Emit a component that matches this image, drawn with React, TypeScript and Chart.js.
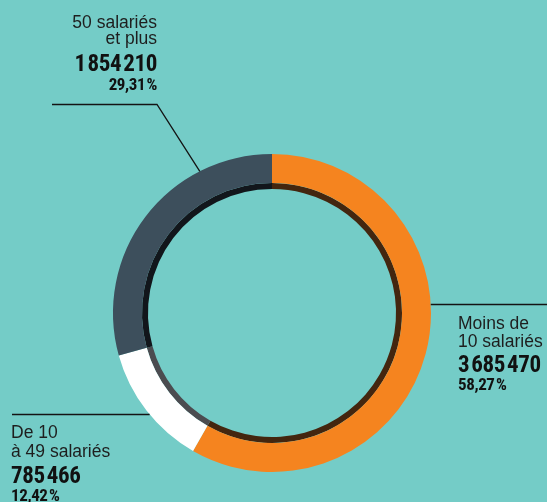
import React, { useEffect, useRef } from "react";
import { Chart, registerables } from "chart.js";

Chart.register(...registerables);

const categories = ["Moins de 10 salariés", "De 10 à 49 salariés", "50 salariés et plus"];
const counts = [3685470, 785466, 1854210];
const shares = [58.27, 12.42, 29.31];
const countLabels = ["3\u200A685\u200A470", "785\u200A466", "1\u200A854\u200A210"];
const shareLabels = ["58,27\u200A%", "12,42\u200A%", "29,31\u200A%"];
const ringColors = ["#F5841F", "#FFFFFF", "#3D4F5C"];
const innerColors = ["#43260F", "#4B4C50", "#12161B"];

const BG = "#74CCC7";
const LIGHT_FONT = "'Liberation Sans', Arial, sans-serif";
const BOLD_FONT = "'Liberation Sans Narrow', 'Roboto Condensed', 'DejaVu Sans Condensed', sans-serif";

const leaderPlugin = {
  id: "leaders",
  afterDraw(chart: any) {
    const arc = chart.getDatasetMeta(0).data[0];
    if (!arc) return;
    const { x: cx, y: cy, outerRadius: r } = arc.getProps(["x", "y", "outerRadius"], true);
    const ctx = chart.ctx;
    ctx.save();
    ctx.strokeStyle = "#141414";
    ctx.lineWidth = 1.3;
    // top-left label
    const a1 = (-27 * Math.PI) / 180;
    ctx.beginPath();
    ctx.moveTo(cx + r * Math.sin(a1), cy - r * Math.cos(a1));
    ctx.lineTo(157, 104.5);
    ctx.lineTo(52, 104.5);
    ctx.stroke();
    // right label
    const y2 = 304.5;
    const x2 = cx + Math.sqrt(r * r - (cy - y2) * (cy - y2));
    ctx.beginPath();
    ctx.moveTo(x2, y2);
    ctx.lineTo(547, y2);
    ctx.stroke();
    // bottom-left label
    const y3 = 414.5;
    const x3 = cx - Math.sqrt(r * r - (y3 - cy) * (y3 - cy));
    ctx.beginPath();
    ctx.moveTo(x3, y3);
    ctx.lineTo(12, y3);
    ctx.stroke();
    ctx.restore();
  },
};

type Line = { text: string; top: number; bold?: boolean; size: number };

const Label = ({ left, right, lines }: { left?: number; right?: number; lines: Line[] }) => (
  <>
    {lines.map((l, i) => (
      <div
        key={i}
        style={{
          position: "absolute",
          top: l.top,
          left: left !== undefined ? left : undefined,
          right: right !== undefined ? right : undefined,
          textAlign: right !== undefined ? "right" : "left",
          whiteSpace: "nowrap",
          fontFamily: l.bold ? BOLD_FONT : LIGHT_FONT,
          fontWeight: l.bold ? 700 : 400,
          fontSize: l.size,
          lineHeight: `${l.size}px`,
          color: l.bold ? "#111111" : "#1E1E1E",
          letterSpacing: l.bold ? "-0.4px" : "0px",
        }}
      >
        {l.text}
      </div>
    ))}
  </>
);

export default function App() {
  const ref = useRef<HTMLCanvasElement | null>(null);

  useEffect(() => {
    if (!ref.current) return;
    const chart = new Chart(ref.current, {
      type: "doughnut",
      data: {
        labels: categories,
        datasets: [
          {
            data: shares,
            backgroundColor: ringColors,
            borderWidth: 0,
            hoverOffset: 0,
            weight: 29,
          } as any,
          {
            data: shares,
            backgroundColor: innerColors,
            borderWidth: 0,
            hoverOffset: 0,
            weight: 6,
          } as any,
        ],
      },
      options: {
        responsive: false,
        animation: false,
        cutout: "78%",
        layout: { padding: { left: 0, right: 3, top: 154, bottom: 30 } },
        plugins: { legend: { display: false }, tooltip: { enabled: false } },
        events: [],
      },
      plugins: [leaderPlugin],
    });
    return () => chart.destroy();
  }, []);

  const W = 547;
  return (
    <div
      style={{
        position: "absolute",
        left: 0,
        top: 0,
        width: W,
        height: 502,
        background: BG,
        overflow: "hidden",
      }}
    >
      <canvas ref={ref} width={W} height={502} style={{ position: "absolute", left: 0, top: 0 }} />
      <Label
        right={W - 157}
        lines={[
          { text: "50 salariés", top: 14.2, size: 17.5 },
          { text: "et plus", top: 30.2, size: 17.5 },
          { text: countLabels[2], top: 51.5, size: 23, bold: true },
          { text: shareLabels[2], top: 75.6, size: 17, bold: true },
        ]}
      />
      <Label
        left={458}
        lines={[
          { text: "Moins de", top: 315.2, size: 17.5 },
          { text: "10 salariés", top: 333.2, size: 17.5 },
          { text: countLabels[0], top: 352.5, size: 23, bold: true },
          { text: shareLabels[0], top: 375.6, size: 17, bold: true },
        ]}
      />
      <Label
        left={11}
        lines={[
          { text: "De 10", top: 424.2, size: 17.5 },
          { text: "à 49 salariés", top: 443.2, size: 17.5 },
          { text: countLabels[1], top: 463.5, size: 23, bold: true },
          { text: shareLabels[1], top: 486.6, size: 17, bold: true },
        ]}
      />
    </div>
  );
}
